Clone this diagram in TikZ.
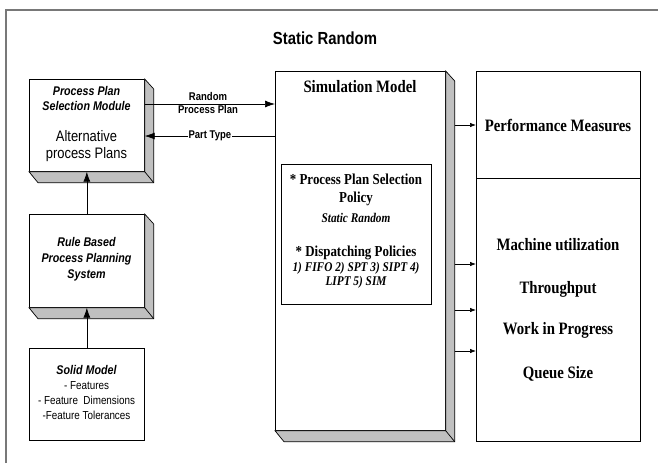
\documentclass[tikz,border=0pt]{standalone}
\usepackage{fontspec}
\setmainfont{Liberation Serif}[FakeStretch=0.85]
\setsansfont{Liberation Sans}[FakeStretch=0.85]
\usetikzlibrary{arrows.meta}

\definecolor{slabgray}{RGB}{192,192,192}
\definecolor{framegray}{RGB}{120,120,120}

\tikzset{
  every node/.style={inner sep=1pt},
  box/.style={draw, line width=0.7pt, fill=white, anchor=north west, inner sep=0pt},
  slabface/.style={fill=slabgray, draw, line width=0.7pt, line join=miter},
  flow/.style={-{Latex[length=10pt,width=7pt]}, line width=0.7pt},
  tick/.style={-{Latex[length=6pt,width=4.5pt]}, line width=0.7pt},
  sanshead/.style={font=\sffamily\bfseries\itshape\fontsize{12.6}{15}\selectfont, align=center},
  serifhead/.style={font=\bfseries\fontsize{17.4}{20}\selectfont},
}

% gray side and bottom of a raised box
\newcommand{\slab}[1]{%
  \draw[slabface] (#1.north east) -- ([xshift=9pt,yshift=-10pt]#1.north east)
    -- ([xshift=9pt,yshift=-11pt]#1.south east) -- ([xshift=9pt,yshift=-11pt]#1.south west)
    -- (#1.south west) -- (#1.south east) -- cycle;
  \draw[line width=0.7pt] (#1.south east) -- ([xshift=9pt,yshift=-11pt]#1.south east);
}

\begin{document}
\begin{tikzpicture}[x=1pt,y=-1pt]
\useasboundingbox (0,0) rectangle (658,463);
\draw[framegray, line width=2pt] (6,463) -- (6,9.5) -- (658,9.5);

\node[font=\sffamily\bfseries\fontsize{17.5}{20}\selectfont] (title) at (325,38) {Static Random};

% left column
\node[box, minimum width=115pt, minimum height=92pt] (ppsm) at (29,79) {};
\slab{ppsm}
\node[sanshead] (ppsmhead) at (86.5,98.5) {Process Plan\\Selection Module};
\node[font=\sffamily\fontsize{15.2}{17}\selectfont, align=center] (ppsmbody) at (86.5,146.5) {Alternative\\process Plans};

\node[box, minimum width=115pt, minimum height=93pt] (rule) at (29,214) {};
\slab{rule}
\node[sanshead, font=\sffamily\bfseries\itshape\fontsize{12.6}{16}\selectfont] (rulehead) at (86.5,259) {Rule Based\\Process Planning\\System};

\node[box, minimum width=115pt, minimum height=92pt] (solid) at (29,348) {};
\node[sanshead] (solidhead) at (86.5,370) {Solid Model};
\node[font=\sffamily\fontsize{11.6}{15}\selectfont, align=center] (solidlist) at (86.5,401) {- Features\\- Feature~~Dimensions\\-Feature Tolerances};

% simulation model
\node[box, minimum width=170pt, minimum height=359pt] (sim) at (275,71) {};
\slab{sim}
\node[serifhead] (simhead) at (360,87) {Simulation Model};

\node[box, minimum width=150pt, minimum height=140pt] (policy) at (281,164) {};
\node[font=\bfseries\fontsize{15.2}{18}\selectfont, align=center] (selhead) at (356,190) {* Process Plan Selection\\Policy};
\node[font=\bfseries\itshape\fontsize{13.3}{14}\selectfont] (selrule) at (356,218) {Static Random};
\node[font=\bfseries\fontsize{15.2}{18}\selectfont] (disphead) at (356,253) {* Dispatching Policies};
\node[font=\bfseries\itshape\fontsize{13.3}{14}\selectfont, align=center] (disprule) at (356,275) {1) FIFO 2) SPT 3) SIPT 4)\\LIPT 5) SIM};

% measures
\node[box, minimum width=164pt, minimum height=107pt] (perf) at (476,71) {};
\node[serifhead] (perfhead) at (558,125) {Performance Measures};
\node[box, minimum width=164pt, minimum height=263pt] (stats) at (476,178) {};
\node[serifhead] (util) at (558,245) {Machine utilization};
\node[serifhead] (thru) at (558,289) {Throughput};
\node[serifhead] (wip) at (558,330) {Work in Progress};
\node[serifhead] (queue) at (558,374) {Queue Size};

% connectors
\draw[flow] ([yshift=-25pt]ppsm.north east) -- ([yshift=-33pt]sim.north west);
\node[font=\sffamily\bfseries\fontsize{11.2}{12.6}\selectfont, align=center] (rplabel) at (208,103) {Random\\Process Plan};
\draw[flow] ([yshift=-65pt]sim.north west) -- ([yshift=-57pt]ppsm.north east)
  node[midway, fill=white, inner sep=1pt, font=\sffamily\bfseries\fontsize{11.2}{12.6}\selectfont] (ptlabel) {Part Type};
\draw[flow] (rule.north) -- (ppsm.south);
\draw[flow] (solid.north) -- (rule.south);
\draw[tick] ([xshift=9pt,yshift=-54pt]sim.north east) -- ([yshift=-54pt]perf.north west);
\foreach \dy in {86,132,173}
  \draw[tick] ([xshift=9pt,yshift=-\dy pt-107pt]sim.north east) -- ([yshift=-\dy pt]stats.north west);
\end{tikzpicture}
\end{document}
